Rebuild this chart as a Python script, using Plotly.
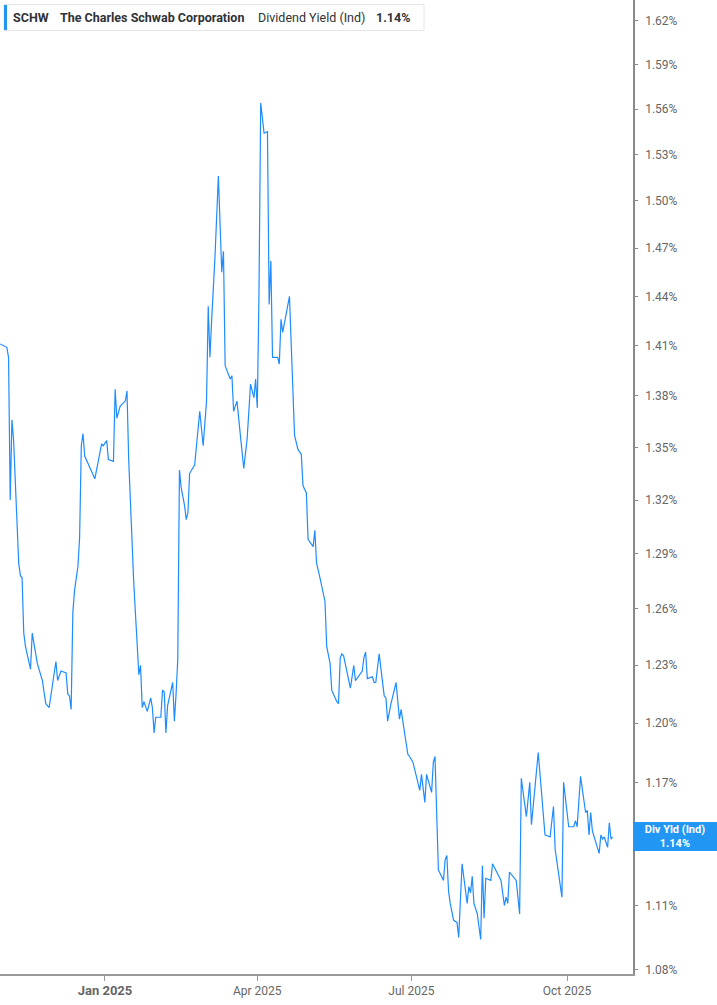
import plotly.graph_objects as go

# ---------------- data ----------------
dates = [
    "2024-10-31", "2024-11-04", "2024-11-05", "2024-11-06", "2024-11-07", "2024-11-08", "2024-11-11",
    "2024-11-12", "2024-11-13", "2024-11-14", "2024-11-15", "2024-11-18", "2024-11-19", "2024-11-22",
    "2024-11-25", "2024-11-27", "2024-11-29",
    "2024-12-03", "2024-12-04", "2024-12-06", "2024-12-09", "2024-12-10", "2024-12-11", "2024-12-12",
    "2024-12-13", "2024-12-14", "2024-12-16", "2024-12-17", "2024-12-18", "2024-12-19", "2024-12-20",
    "2024-12-26", "2024-12-30", "2024-12-31",
    "2025-01-02", "2025-01-03", "2025-01-06", "2025-01-07", "2025-01-08", "2025-01-10", "2025-01-13",
    "2025-01-14", "2025-01-15", "2025-01-16", "2025-01-18", "2025-01-21", "2025-01-22", "2025-01-23",
    "2025-01-24", "2025-01-26", "2025-01-28", "2025-01-29", "2025-01-30", "2025-01-31",
    "2025-02-03", "2025-02-04", "2025-02-05", "2025-02-06", "2025-02-07", "2025-02-10", "2025-02-11",
    "2025-02-12", "2025-02-13", "2025-02-14", "2025-02-15", "2025-02-17", "2025-02-18", "2025-02-19",
    "2025-02-20", "2025-02-23", "2025-02-25", "2025-02-26", "2025-02-28",
    "2025-03-02", "2025-03-03", "2025-03-04", "2025-03-05", "2025-03-07", "2025-03-09", "2025-03-11",
    "2025-03-12", "2025-03-13", "2025-03-16", "2025-03-17", "2025-03-18", "2025-03-20", "2025-03-22",
    "2025-03-24", "2025-03-26", "2025-03-28", "2025-03-30", "2025-03-31",
    "2025-04-01", "2025-04-02", "2025-04-03", "2025-04-05", "2025-04-07", "2025-04-08", "2025-04-09",
    "2025-04-10", "2025-04-13", "2025-04-14", "2025-04-15", "2025-04-16", "2025-04-20", "2025-04-21",
    "2025-04-23", "2025-04-25", "2025-04-27", "2025-04-28", "2025-04-30",
    "2025-05-01", "2025-05-04", "2025-05-05", "2025-05-06", "2025-05-08", "2025-05-11", "2025-05-12",
    "2025-05-14", "2025-05-15", "2025-05-18", "2025-05-19", "2025-05-20", "2025-05-21", "2025-05-22",
    "2025-05-26", "2025-05-28", "2025-05-29",
    "2025-06-02", "2025-06-03", "2025-06-04", "2025-06-05", "2025-06-08", "2025-06-09", "2025-06-10",
    "2025-06-12", "2025-06-15", "2025-06-16", "2025-06-17", "2025-06-19", "2025-06-22", "2025-06-24",
    "2025-06-25", "2025-06-27", "2025-06-29", "2025-06-30",
    "2025-07-02", "2025-07-06", "2025-07-07", "2025-07-09", "2025-07-10", "2025-07-13", "2025-07-14",
    "2025-07-15", "2025-07-17", "2025-07-20", "2025-07-21", "2025-07-22", "2025-07-23", "2025-07-24",
    "2025-07-26", "2025-07-28", "2025-07-29", "2025-07-31",
    "2025-08-03", "2025-08-04", "2025-08-05", "2025-08-06", "2025-08-07", "2025-08-09", "2025-08-11",
    "2025-08-12", "2025-08-13", "2025-08-14", "2025-08-17", "2025-08-18", "2025-08-20", "2025-08-21",
    "2025-08-23", "2025-08-25", "2025-08-26", "2025-08-27", "2025-08-28",
    "2025-09-01", "2025-09-03", "2025-09-04", "2025-09-07", "2025-09-09", "2025-09-10", "2025-09-14",
    "2025-09-18", "2025-09-21", "2025-09-23", "2025-09-24", "2025-09-28", "2025-09-29",
    "2025-10-02", "2025-10-05", "2025-10-06", "2025-10-07", "2025-10-09", "2025-10-12", "2025-10-13",
    "2025-10-14", "2025-10-15", "2025-10-16", "2025-10-18", "2025-10-20", "2025-10-21", "2025-10-22",
    "2025-10-23", "2025-10-25", "2025-10-26", "2025-10-27", "2025-10-28",
]

dividend_yield = [
    1.411, 1.409, 1.403, 1.320, 1.366, 1.354, 1.285, 1.278, 1.277, 1.247, 1.240, 1.228, 1.247, 1.231,
    1.222, 1.210, 1.208,
    1.232, 1.222, 1.227, 1.226, 1.215, 1.214, 1.207, 1.258, 1.270, 1.283, 1.299, 1.351, 1.358, 1.345,
    1.332, 1.352, 1.351,
    1.354, 1.343, 1.342, 1.384, 1.367, 1.374, 1.377, 1.383, 1.343, 1.317, 1.274, 1.225, 1.230, 1.208,
    1.211, 1.206, 1.213, 1.208, 1.195, 1.203,
    1.203, 1.217, 1.216, 1.195, 1.209, 1.221, 1.201, 1.215, 1.233, 1.337, 1.327, 1.317, 1.309, 1.313,
    1.335, 1.340, 1.362, 1.371, 1.351,
    1.377, 1.434, 1.403, 1.425, 1.465, 1.516, 1.455, 1.468, 1.398, 1.390, 1.392, 1.371, 1.377, 1.357,
    1.338, 1.355, 1.387, 1.379, 1.390,
    1.373, 1.443, 1.564, 1.544, 1.545, 1.435, 1.462, 1.403, 1.403, 1.399, 1.426, 1.418, 1.440, 1.409,
    1.357, 1.349, 1.346, 1.328, 1.324,
    1.298, 1.294, 1.303, 1.285, 1.277, 1.264, 1.240, 1.231, 1.217, 1.211, 1.210, 1.234, 1.236, 1.235,
    1.218, 1.230, 1.222,
    1.227, 1.234, 1.237, 1.223, 1.224, 1.221, 1.221, 1.236, 1.214, 1.213, 1.201, 1.210, 1.221, 1.202,
    1.207, 1.195, 1.184, 1.183,
    1.180, 1.166, 1.174, 1.160, 1.174, 1.165, 1.180, 1.183, 1.127, 1.122, 1.132, 1.134, 1.117, 1.111,
    1.103, 1.102, 1.095, 1.130,
    1.111, 1.119, 1.116, 1.124, 1.111, 1.106, 1.094, 1.129, 1.104, 1.123, 1.122, 1.130, 1.127, 1.125,
    1.122, 1.110, 1.114, 1.111, 1.126,
    1.122, 1.106, 1.172, 1.153, 1.170, 1.149, 1.185, 1.144, 1.143, 1.158, 1.137, 1.114, 1.170,
    1.148, 1.148, 1.151, 1.148, 1.173, 1.155, 1.156, 1.144, 1.155, 1.146, 1.140, 1.135, 1.144, 1.142,
    1.143, 1.138, 1.150, 1.142, 1.143,
]

# 1.14% sits under the end-of-line tag (as in the reference), so its label is left empty
y_tick_values = [1.08, 1.11, 1.14, 1.17, 1.20, 1.23, 1.26, 1.29, 1.32, 1.35, 1.38, 1.41, 1.44,
                 1.47, 1.50, 1.53, 1.56, 1.59, 1.62]
y_tick_labels = ["1.08%", "1.11%", "", "1.17%", "1.20%", "1.23%", "1.26%", "1.29%", "1.32%",
                 "1.35%", "1.38%", "1.41%", "1.44%", "1.47%", "1.50%", "1.53%", "1.56%", "1.59%", "1.62%"]
x_tick_dates = ["2025-01-01", "2025-04-01", "2025-07-01", "2025-10-01"]
x_tick_labels = ["<b><span style='font-size:13px'>Jan 2025</span></b>", "Apr 2025", "Jul 2025", "Oct 2025"]

ticker = "SCHW"
company = "The Charles Schwab Corporation"
metric = "Dividend Yield (Ind)"
last_label = "1.14%"
end_tag = "Div Yld (Ind)"

LINE_BLUE = "#1e8cff"
TAG_BLUE = "#2196f3"
W, H = 717, 1005
ML, MR, MT, MB = 0, 84, 0, 31
PW, PH = W - ML - MR, H - MT - MB

fig = go.Figure()
fig.add_trace(go.Scatter(
    x=dates, y=dividend_yield, mode="lines",
    line=dict(color=LINE_BLUE, width=1.2),
    showlegend=False, hoverinfo="x+y",
))

fig.update_layout(
    width=W, height=H,
    margin=dict(l=ML, r=MR, t=MT, b=MB, pad=0),
    paper_bgcolor="white", plot_bgcolor="white",
    font=dict(family="Roboto, sans-serif", size=12, color="#666666"),
    xaxis=dict(
        type="date",
        range=["2024-10-30 23:00", "2025-11-09"],
        tickmode="array", tickvals=x_tick_dates, ticktext=x_tick_labels,
        ticks="outside", ticklen=5, tickcolor="#999999", tickwidth=1,
        showline=True, linecolor="#9a9a9a", linewidth=1.5,
        showgrid=False, zeroline=False,
        tickfont=dict(family="Roboto, sans-serif", size=12, color="#666666"),
    ),
    yaxis=dict(
        type="log",
        range=[0.03262, 0.21336],
        side="right",
        tickmode="array", tickvals=y_tick_values, ticktext=y_tick_labels,
        ticks="outside", ticklen=3, tickcolor="#888888", tickwidth=1,
        showline=True, linecolor="#8a8a8a", linewidth=1.5,
        showgrid=False, zeroline=False,
        tickfont=dict(family="Roboto, sans-serif", size=12, color="#666666"),
        ticklabelstandoff=5,
    ),
)

def px_x(px):
    return px / PW

def px_y(py):
    return 1 - py / PH

# header box
fig.add_shape(type="rect", xref="paper", yref="paper",
              x0=px_x(4), x1=px_x(424), y0=px_y(30.5), y1=px_y(4.5),
              line=dict(color="#e4e6ea", width=1), fillcolor="white", layer="above")
fig.add_shape(type="rect", xref="paper", yref="paper",
              x0=px_x(4), x1=px_x(7), y0=px_y(30), y1=px_y(5),
              line=dict(width=0), fillcolor=TAG_BLUE, layer="above")

header_parts = [
    (12, f"<b>{ticker}</b>"),
    (59, f"<b>{company}</b>"),
    (257, metric),
    (375, f"<b>{last_label}</b>"),
]
for xpx, txt in header_parts:
    fig.add_annotation(xref="paper", yref="paper", x=px_x(xpx), y=px_y(17.5),
                       xanchor="left", yanchor="middle", showarrow=False, text=txt,
                       font=dict(family="Roboto, sans-serif", size=12.5, color="#2f3237"),
                       borderpad=0)

# end-of-line value tag
fig.add_annotation(xref="paper", yref="y", x=1.0, y=0.05805,
                   xanchor="left", yanchor="middle", showarrow=False,
                   text=f"<b>{end_tag}</b><br><b>{last_label}</b>",
                   font=dict(family="Roboto, sans-serif", size=11, color="white"),
                   bgcolor=TAG_BLUE, bordercolor=TAG_BLUE, borderwidth=1, borderpad=0,
                   width=82, height=27, align="center")

fig.write_html("out.html",
               config={"displayModeBar": False},
               post_script="document.body.style.margin='0';document.body.style.overflow='hidden';")
